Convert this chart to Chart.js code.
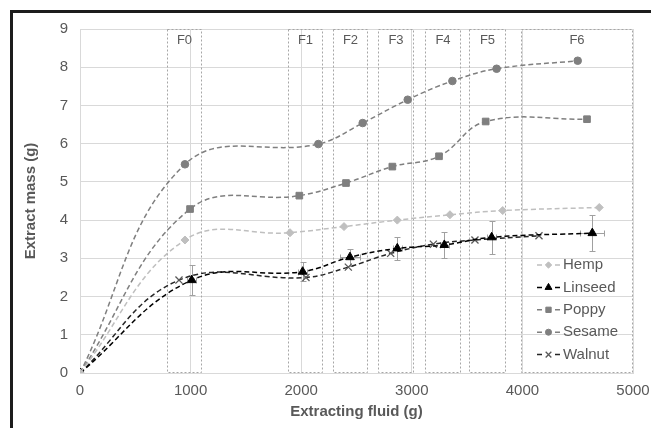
<!DOCTYPE html>
<html>
<head>
<meta charset="utf-8">
<script src="https://cdn.jsdelivr.net/npm/chart.js@4.4.1/dist/chart.umd.min.js"></script>
<style>
  html, body { margin: 0; padding: 0; background: #fff; }
  #wrap { position: relative; width: 651px; height: 428px; overflow: hidden; }
  #wrap canvas { position: absolute; left: 0; top: 0; }
  #frame {
    position: absolute; left: 10px; top: 10px; right: -5px; bottom: -5px;
    border-left: 3px solid #1c1c1c; border-top: 3px solid #1c1c1c;
    pointer-events: none;
  }
</style>
</head>
<body>
<div id="wrap">
  <canvas id="massChart" width="651" height="428"></canvas>
  <div id="frame"></div>
</div>
<script>
// extracted mass vs extracting fluid, per seed oil
const hempX = [0, 949, 1899, 2387, 2869, 3345, 3822, 4695];
const hempY = [0, 3.48, 3.67, 3.83, 4.0, 4.14, 4.25, 4.33];

const linseedX = [0, 1010, 2013, 2441, 2869, 3294, 3722, 4632];
const linseedY = [0, 2.43, 2.65, 3.03, 3.26, 3.35, 3.55, 3.66];
const linseedYErr = [0, 0.39, 0.25, 0.22, 0.3, 0.33, 0.43, 0.47];
const linseedXErr = [0, 40, 40, 90, 40, 40, 40, 110];

const poppyX = [0, 995, 1983, 2405, 2824, 3246, 3668, 4584];
const poppyY = [0, 4.29, 4.64, 4.97, 5.4, 5.67, 6.58, 6.64];

const sesameX = [0, 949, 2155, 2556, 2963, 3367, 3767, 4500];
const sesameY = [0, 5.46, 5.99, 6.54, 7.15, 7.64, 7.96, 8.17];

const walnutX = [0, 895, 2043, 2426, 2809, 3195, 3571, 4150];
const walnutY = [0, 2.43, 2.5, 2.77, 3.13, 3.37, 3.48, 3.59];

// fraction windows (g of extracting fluid)
const fractionLabels = ["F0", "F1", "F2", "F3", "F4", "F5", "F6"];
const fractionStart = [784, 1878, 2285, 2694, 3119, 3517, 3987];
const fractionEnd = [1100, 2200, 2601, 3020, 3442, 3849, 5000];

const font = "'Liberation Sans', Arial, sans-serif";
const textColor = "#595959";

const toPoints = (xs, ys) => xs.map((x, i) => ({ x: x, y: ys[i] }));

function series(label, xs, ys, lineColor, markerColor, style, radius) {
  return {
    label: label,
    data: toPoints(xs, ys),
    showLine: true,
    borderColor: lineColor,
    borderWidth: 1.5,
    borderDash: [5, 3],
    tension: 0.4,
    pointStyle: style,
    pointRadius: radius,
    pointHoverRadius: radius,
    pointBackgroundColor: markerColor,
    pointBorderColor: markerColor,
    pointBorderWidth: style === "crossRot" ? 1.3 : 1,
  };
}

const fractionBoxes = {
  id: "fractionBoxes",
  beforeDatasetsDraw(chart) {
    const { ctx, scales: { x, y } } = chart;
    ctx.save();
    ctx.strokeStyle = "#a6a6a6";
    ctx.lineWidth = 1;
    ctx.setLineDash([2, 2]);
    ctx.font = "13px " + font;
    ctx.fillStyle = textColor;
    ctx.textAlign = "center";
    ctx.textBaseline = "middle";
    const top = y.getPixelForValue(9);
    const bottom = y.getPixelForValue(0);
    fractionLabels.forEach((lab, i) => {
      const l = Math.round(x.getPixelForValue(fractionStart[i])) + 0.5;
      const r = Math.round(x.getPixelForValue(fractionEnd[i])) - 0.5;
      ctx.strokeRect(l, top + 0.5, r - l, bottom - top - 1);
      ctx.fillText(lab, (l + r) / 2, top + 11);
    });
    ctx.restore();
  },
};

const errorBars = {
  id: "errorBars",
  beforeDatasetsDraw(chart) {
    const { ctx, scales: { x, y } } = chart;
    ctx.save();
    ctx.strokeStyle = "#a0a0a0";
    ctx.lineWidth = 1;
    const cap = 3;
    linseedX.forEach((vx, i) => {
      if (!linseedYErr[i]) return;
      const px = Math.round(x.getPixelForValue(vx)) + 0.5;
      const py = Math.round(y.getPixelForValue(linseedY[i])) + 0.5;
      const t = Math.round(y.getPixelForValue(linseedY[i] + linseedYErr[i])) + 0.5;
      const b = Math.round(y.getPixelForValue(linseedY[i] - linseedYErr[i])) + 0.5;
      const l = Math.round(x.getPixelForValue(vx - linseedXErr[i])) + 0.5;
      const r = Math.round(x.getPixelForValue(vx + linseedXErr[i])) + 0.5;
      ctx.beginPath();
      ctx.moveTo(px, t); ctx.lineTo(px, b);
      ctx.moveTo(px - cap, t); ctx.lineTo(px + cap, t);
      ctx.moveTo(px - cap, b); ctx.lineTo(px + cap, b);
      ctx.moveTo(l, py); ctx.lineTo(r, py);
      ctx.moveTo(l, py - cap); ctx.lineTo(l, py + cap);
      ctx.moveTo(r, py - cap); ctx.lineTo(r, py + cap);
      ctx.stroke();
    });
    ctx.restore();
  },
};

const insideLegend = {
  id: "insideLegend",
  afterDraw(chart) {
    const { ctx, chartArea } = chart;
    const x0 = chartArea.right - 96;
    let yy = chartArea.bottom - 108;
    ctx.save();
    ctx.font = "15px " + font;
    ctx.textBaseline = "middle";
    chart.data.datasets.forEach((ds) => {
      ctx.strokeStyle = ds.borderColor;
      ctx.lineWidth = 1.5;
      ctx.beginPath();
      ctx.moveTo(x0, yy); ctx.lineTo(x0 + 5, yy);
      ctx.moveTo(x0 + 18, yy); ctx.lineTo(x0 + 23, yy);
      ctx.stroke();
      ctx.fillStyle = ds.pointBackgroundColor;
      ctx.strokeStyle = ds.pointBorderColor;
      ctx.lineWidth = ds.pointBorderWidth;
      Chart.helpers.drawPoint(ctx, {
        pointStyle: ds.pointStyle,
        radius: ds.pointRadius * 0.8,
        borderWidth: ds.pointBorderWidth,
      }, x0 + 11.5, yy);
      ctx.fillStyle = textColor;
      ctx.fillText(ds.label, x0 + 26, yy);
      yy += 22.4;
    });
    ctx.restore();
  },
};

new Chart(document.querySelector("#massChart"), {
  type: "scatter",
  data: {
    datasets: [
      series("Hemp", hempX, hempY, "#bfbfbf", "#bfbfbf", "rectRot", 4),
      series("Linseed", linseedX, linseedY, "#000000", "#000000", "triangle", 5),
      series("Poppy", poppyX, poppyY, "#7f7f7f", "#7f7f7f", "rect", 4.7),
      series("Sesame", sesameX, sesameY, "#7f7f7f", "#7f7f7f", "circle", 3.8),
      series("Walnut", walnutX, walnutY, "#262626", "#595959", "crossRot", 5),
    ],
  },
  options: {
    responsive: false,
    animation: false,
    layout: { padding: { left: 0, top: 29, right: 18, bottom: 0 } },
    plugins: { legend: { display: false }, tooltip: { enabled: false } },
    scales: {
      x: {
        type: "linear",
        min: 0,
        max: 5000,
        afterFit: (s) => { s.height = 55; s.paddingLeft = 0; s.paddingRight = 0; },
        ticks: {
          stepSize: 1000,
          color: textColor,
          font: { family: font, size: 15 },
          padding: 9,
          callback: (v) => String(v),
        },
        grid: { color: "#d9d9d9", drawTicks: false },
        border: { color: "#d9d9d9" },
        title: {
          display: true,
          text: "Extracting fluid (g)",
          color: textColor,
          font: { family: font, size: 15, weight: "bold" },
          padding: { top: 7, bottom: 7 },
        },
      },
      y: {
        min: 0,
        max: 9,
        afterFit: (s) => { s.width = 80; },
        ticks: { stepSize: 1, color: textColor, font: { family: font, size: 15 }, padding: 12 },
        grid: { color: "#d9d9d9", drawTicks: false },
        border: { color: "#d9d9d9" },
        title: {
          display: true,
          text: "Extract mass (g)",
          color: textColor,
          font: { family: font, size: 15, weight: "bold" },
          padding: { top: 22, bottom: 0 },
        },
      },
    },
  },
  plugins: [fractionBoxes, errorBars, insideLegend],
});
</script>
</body>
</html>
